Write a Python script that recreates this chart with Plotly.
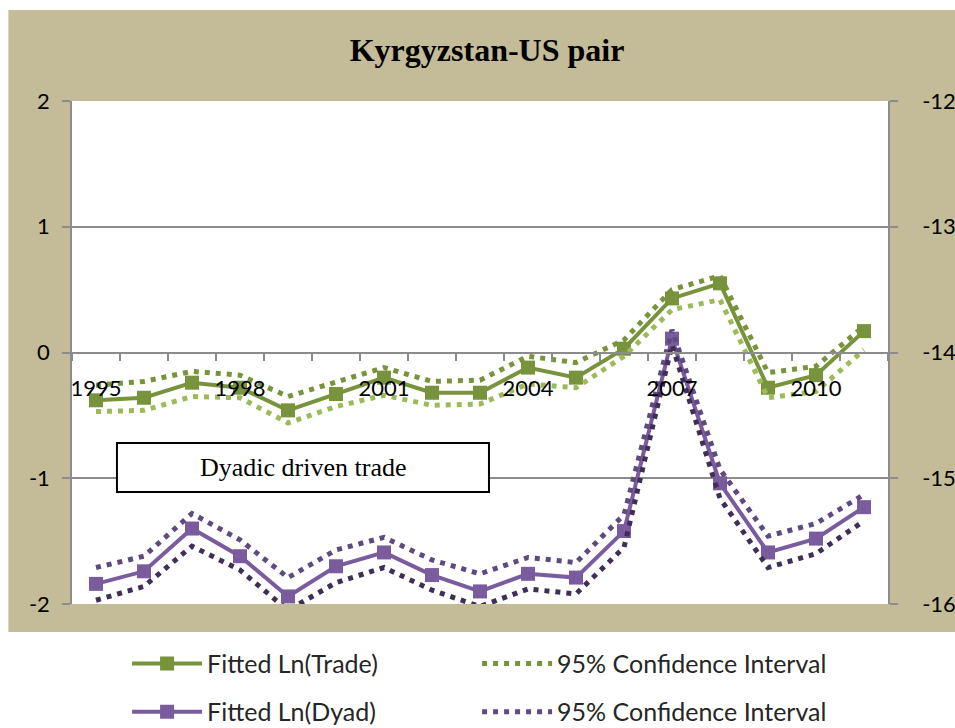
import plotly.graph_objects as go

years = [str(y) for y in range(1995, 2012)]
year_labels = ["1995", "", "", "1998", "", "", "2001", "", "", "2004", "", "", "2007", "", "", "2010", ""]

left_ticks = [-2, -1, 0, 1, 2]
left_labels = ["-2", "-1", "0", "1", "2"]
right_ticks = [-16, -15, -14, -13, -12]
right_labels = ["-16", "-15", "-14", "-13", "-12"]

trade_fit = [-0.38, -0.36, -0.24, -0.28, -0.46, -0.33, -0.20, -0.32, -0.32, -0.12, -0.20, 0.03, 0.43, 0.55, -0.28, -0.18, 0.17]
trade_upper = [-0.26, -0.23, -0.15, -0.18, -0.35, -0.24, -0.12, -0.23, -0.22, -0.03, -0.08, 0.10, 0.50, 0.61, -0.16, -0.11, 0.21]
trade_lower = [-0.47, -0.46, -0.35, -0.36, -0.56, -0.43, -0.34, -0.42, -0.41, -0.25, -0.28, -0.03, 0.34, 0.42, -0.36, -0.31, 0.02]

dyad_fit = [-15.84, -15.74, -15.40, -15.62, -15.94, -15.70, -15.59, -15.77, -15.90, -15.76, -15.79, -15.42, -13.89, -15.04, -15.59, -15.48, -15.23]
dyad_upper = [-15.71, -15.62, -15.28, -15.49, -15.79, -15.57, -15.47, -15.65, -15.76, -15.63, -15.67, -15.29, -13.82, -14.93, -15.46, -15.36, -15.13]
dyad_lower = [-15.97, -15.86, -15.54, -15.73, -16.05, -15.83, -15.71, -15.89, -16.02, -15.88, -15.92, -15.55, -13.94, -15.16, -15.71, -15.60, -15.34]

GREEN = "#77933C"
GREEN_L = "#9BBB59"
PURPLE = "#7A5C9E"
PURPLE_U = "#5F4A80"
PURPLE_L = "#3F2F56"
GRID = "#8C8C8C"
DOT = "5px,6px"

fig = go.Figure()

fig.add_trace(go.Scatter(x=years, y=trade_fit, mode="lines+markers", name="Fitted Ln(Trade)",
                         line=dict(color=GREEN, width=4), marker=dict(symbol="square", size=14, color=GREEN),
                         legend="legend"))
fig.add_trace(go.Scatter(x=years, y=trade_upper, mode="lines", name="95% Confidence Interval",
                         line=dict(color=GREEN, width=5, dash=DOT), legend="legend"))
fig.add_trace(go.Scatter(x=years, y=trade_lower, mode="lines", name="95% Confidence Interval",
                         line=dict(color=GREEN_L, width=5, dash=DOT), showlegend=False))

fig.add_trace(go.Scatter(x=years, y=dyad_fit, mode="lines+markers", name="Fitted Ln(Dyad)", yaxis="y2",
                         line=dict(color=PURPLE, width=4), marker=dict(symbol="square", size=14, color=PURPLE),
                         legend="legend2"))
fig.add_trace(go.Scatter(x=years, y=dyad_upper, mode="lines", name="95% Confidence Interval", yaxis="y2",
                         line=dict(color=PURPLE_U, width=5, dash=DOT), legend="legend2"))
fig.add_trace(go.Scatter(x=years, y=dyad_lower, mode="lines", name="95% Confidence Interval", yaxis="y2",
                         line=dict(color=PURPLE_L, width=5, dash=DOT), showlegend=False))

tickfont = dict(family="Lato", size=22, color="#000000")

legend_common = dict(orientation="h", xanchor="left", yanchor="middle", x=0.0675,
                     font=dict(family="Lato", size=25, color="#262626"),
                     bgcolor="rgba(0,0,0,0)", itemwidth=70, entrywidth=265, entrywidthmode="pixels",
                     traceorder="normal")

fig.update_layout(
    width=955, height=728,
    margin=dict(l=72, r=67, t=101, b=124, autoexpand=False),
    paper_bgcolor="#FFFFFF", plot_bgcolor="#FFFFFF",
    title=dict(text="<b>Kyrgyzstan-US pair</b>", x=0.51, xanchor="center", y=0.931, yanchor="middle",
               font=dict(family="Liberation Serif", size=32, color="#000000")),
    xaxis=dict(type="category", anchor="free", position=0.5, range=[-0.5, 16.5],
               tickmode="array", tickvals=years, ticktext=year_labels, tickson="boundaries",
               ticks="outside", ticklen=8, tickcolor=GRID, tickwidth=1.5,
               showline=True, linecolor=GRID, linewidth=1.5, showgrid=False, zeroline=False,
               tickfont=tickfont, tickangle=0, ticklabelstandoff=16),
    yaxis=dict(range=[-2, 2], tickmode="array", tickvals=left_ticks, ticktext=left_labels,
               showgrid=True, gridcolor=GRID, gridwidth=1.5,
               ticks="outside", ticklen=8, tickcolor=GRID, tickwidth=1.5, zeroline=False,
               showline=True, linecolor=GRID, linewidth=1.5,
               tickfont=tickfont, ticklabelstandoff=8),
    yaxis2=dict(range=[-16, -12], tickmode="array", tickvals=right_ticks, ticktext=right_labels,
                overlaying="y", side="right", showgrid=False,
                ticks="outside", ticklen=8, tickcolor=GRID, tickwidth=1.5, zeroline=False,
                showline=True, linecolor=GRID, linewidth=1.5,
                tickfont=tickfont, ticklabelstandoff=20),
    legend=dict(y=-0.119, **legend_common),
    legend2=dict(y=-0.2147, **legend_common),
    shapes=[
        dict(type="rect", xref="paper", yref="paper", x0=-0.078, x1=1.09, y0=-0.0557, y1=1.181,
             fillcolor="#C4BB98", line=dict(width=0), layer="below"),
        dict(type="rect", xref="paper", yref="paper", x0=0, x1=1, y0=0, y1=1,
             fillcolor="#FFFFFF", line=dict(width=0), layer="below"),
        dict(type="rect", xref="paper", yref="paper", x0=0.0551, x1=0.511, y0=0.2227, y1=0.320,
             fillcolor="#FFFFFF", line=dict(color="#000000", width=2), layer="above"),
    ],
    annotations=[
        dict(text="Dyadic driven trade", xref="paper", yref="paper", x=0.283, y=0.2714,
             xanchor="center", yanchor="middle", showarrow=False,
             font=dict(family="Liberation Serif", size=26, color="#000000")),
    ],
)

fig.write_html("out.html", config={"displayModeBar": False},
               post_script="document.body.style.margin='0';")
